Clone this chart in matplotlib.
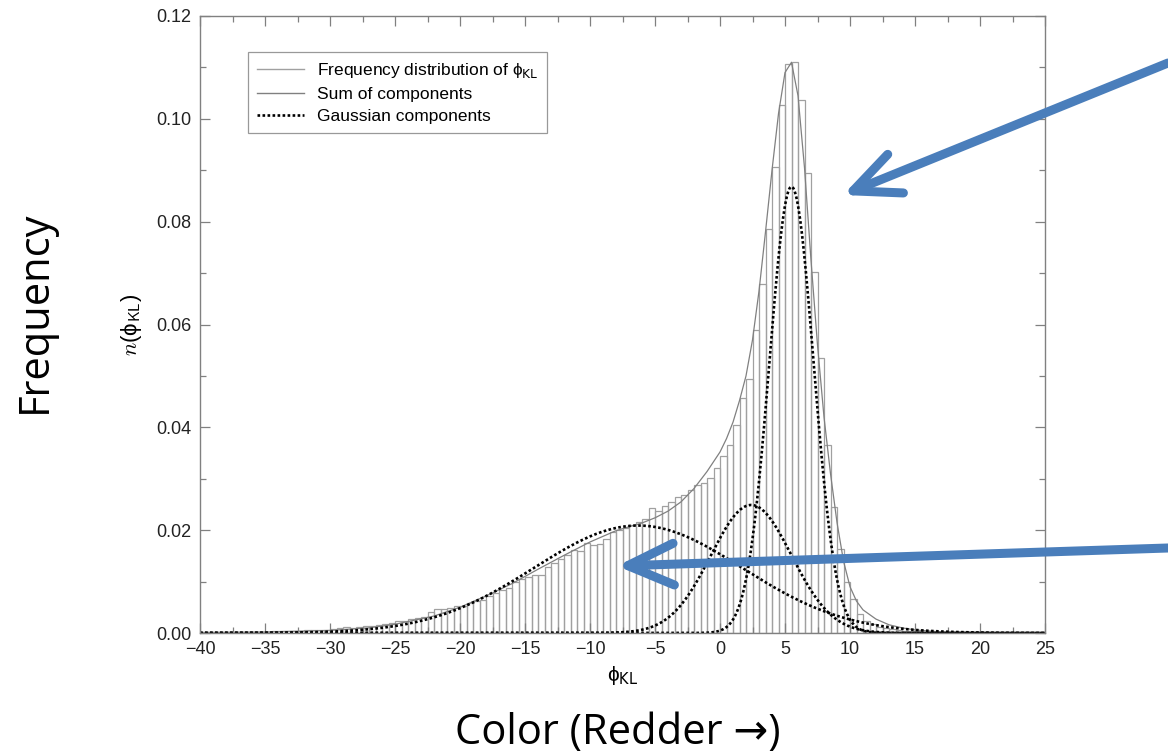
import numpy as np
import matplotlib.pyplot as plt
from matplotlib.lines import Line2D
from matplotlib.patches import FancyArrowPatch
from matplotlib.ticker import MultipleLocator

plt.rcParams['font.family'] = ['Liberation Sans', 'DejaVu Sans']

# histogram of phi_KL, bins of 0.5 starting at -40
bin_start = -40.0
bin_width = 0.5
freq = [
    0.0001, 0.0001, 0.0002, 0.0002, 0.0002, 0.0002, 0.0002, 0.0002, 0.0001, 0.0002,  # -40..-35
    0.0002, 0.0003, 0.0003, 0.0003, 0.0004, 0.0004, 0.0005, 0.0005, 0.0006, 0.0006,  # -35..-30
    0.0008, 0.0009, 0.0011, 0.0010, 0.0011, 0.0013, 0.0014, 0.0016, 0.0018, 0.0019,  # -30..-25
    0.0023, 0.0023, 0.0027, 0.0030, 0.0032, 0.0041, 0.0046, 0.0047, 0.0049, 0.0052,  # -25..-20
    0.0053, 0.0058, 0.0063, 0.0064, 0.0072, 0.0077, 0.0084, 0.0087, 0.0100, 0.0105,  # -20..-15
    0.0108, 0.0112, 0.0112, 0.0128, 0.0136, 0.0144, 0.0152, 0.0161, 0.0160, 0.0176,  # -15..-10
    0.0171, 0.0174, 0.0182, 0.0197, 0.0200, 0.0205, 0.0210, 0.0215, 0.0221, 0.0243,  # -10..-5
    0.0238, 0.0247, 0.0254, 0.0265, 0.0268, 0.0278, 0.0288, 0.0291, 0.0302, 0.0320,  # -5..0
    0.0344, 0.0366, 0.0405, 0.0457, 0.0494, 0.0589, 0.0678, 0.0786, 0.0906, 0.1026,  # 0..5
    0.1107, 0.1111, 0.1036, 0.0894, 0.0702, 0.0535, 0.0366, 0.0245, 0.0163, 0.0099,  # 5..10
    0.0066, 0.0037, 0.0023, 0.0017, 0.0012, 0.0009, 0.0007, 0.0005, 0.0004, 0.0003,  # 10..15
    0.0003, 0.0002, 0.0002, 0.0001, 0.0001, 0.0001, 0.0001, 0.0, 0.0, 0.0,           # 15..20
    0.0, 0.0, 0.0, 0.0, 0.0, 0.0, 0.0, 0.0, 0.0, 0.0,                                # 20..25
]

# sum of components
sum_x = [-40, -35, -30, -27, -25, -22, -20, -18, -16, -14, -12, -10, -8, -6, -5, -4, -3, -2, -1,
         0, 0.5, 1, 1.5, 2, 2.5, 3, 3.5, 4, 4.5, 5, 5.5, 6, 6.5, 7, 7.5, 8, 8.5, 9, 9.5,
         10, 10.5, 11, 12, 13, 14, 15, 17, 20, 25]
sum_y = [0.0001, 0.0002, 0.0005, 0.0010, 0.0017, 0.0033, 0.0050, 0.0072, 0.0096, 0.0124, 0.0151,
         0.0177, 0.0199, 0.0214, 0.0224, 0.0237, 0.0255, 0.0281, 0.0314,
         0.0352, 0.0378, 0.0410, 0.0452, 0.0500, 0.0570, 0.0665, 0.0780, 0.0900, 0.1010, 0.1090,
         0.1110, 0.1045, 0.0905, 0.0725, 0.0560, 0.0420, 0.0310, 0.0215, 0.0140,
         0.0090, 0.0062, 0.0045, 0.0027, 0.0016, 0.0010, 0.0006, 0.0002, 0.0001, 0.0]

# gaussian components: centre, sigma, peak height
comp_mu = [-6.3, 2.4, 5.5]
comp_sigma = [8.0, 3.1, 1.7]
comp_peak = [0.0209, 0.0249, 0.0868]

fig = plt.figure(figsize=(11.68, 7.55), dpi=100)
ax = fig.add_axes([200 / 1168, 122 / 755, 845 / 1168, 617 / 755])

edges = bin_start + bin_width * np.arange(len(freq))
ax.bar(edges, freq, width=bin_width, align='edge', fill=False,
       edgecolor='#a0a0a0', linewidth=0.9)
ax.plot(sum_x, sum_y, color='#808080', lw=0.9)

dots = (0, (1, 0.9))
xx = np.linspace(-40, 25, 1500)
for mu, sig, amp in zip(comp_mu, comp_sigma, comp_peak):
    ax.plot(xx, amp * np.exp(-0.5 * ((xx - mu) / sig) ** 2), color='black', ls=dots, lw=1.9)

ax.set_xlim(-40, 25)
ax.set_ylim(0, 0.12)
ax.xaxis.set_major_locator(MultipleLocator(5))
ax.xaxis.set_minor_locator(MultipleLocator(2.5))
ax.yaxis.set_major_locator(MultipleLocator(0.02))
ax.yaxis.set_minor_locator(MultipleLocator(0.01))
ax.yaxis.set_major_formatter(plt.FuncFormatter(lambda v, p: f"{v:.2f}"))
ax.tick_params(which='both', direction='in', top=True, right=True, color='#808080',
               labelsize=13, labelcolor='#222222')
ax.tick_params(which='major', length=7, width=0.9, pad=6)
ax.tick_params(which='minor', length=4, width=0.9)
for sp in ax.spines.values():
    sp.set_color('#808080')
    sp.set_linewidth(1.0)

ax.set_xlabel('\u03d5$_{\\mathsf{KL}}$', fontsize=15, labelpad=4)
ax.set_ylabel('$n$(\u03d5$_{\\mathsf{KL}}$)', fontsize=16, math_fontfamily='cm', labelpad=9)

handles = [Line2D([], [], color='#a0a0a0', lw=1),
           Line2D([], [], color='#808080', lw=1),
           Line2D([], [], color='black', ls=dots, lw=1.9)]
labels = ['Frequency distribution of \u03d5$_{\\mathsf{KL}}$', 'Sum of components', 'Gaussian components']
leg = ax.legend(handles, labels, loc='upper left', bbox_to_anchor=(48 / 845, 581 / 617),
                borderaxespad=0, fontsize=12.5, frameon=True, fancybox=False,
                handlelength=2.7, handletextpad=0.75, labelspacing=0.4, borderpad=0.5)
leg.get_frame().set_edgecolor('#808080')
leg.get_frame().set_linewidth(0.9)

# slide annotations
fig.text(35 / 1168, 1 - 312 / 755, 'Frequency', rotation=90, ha='center', va='center',
         fontsize=30, family=['Open Sans', 'DejaVu Sans'])
fig.text(618 / 1168, 1 - 733 / 755, 'Color (Redder \u2192)', ha='center', va='center',
         fontsize=30, family=['Open Sans', 'DejaVu Sans'])

blue = '#4a7ebb'
arrows = [((1168, 755 - 63), (843, 755 - 195)),
          ((1168, 755 - 548), (617, 755 - 566))]
for tail, tip in arrows:
    fig.add_artist(FancyArrowPatch(
        tail, tip, transform=None, arrowstyle='->,head_length=3.3,head_width=1.5',
        mutation_scale=10, lw=6.5, color=blue, shrinkA=0, shrinkB=0,
        capstyle='round', joinstyle='round'))

fig.savefig('out.png', dpi=100)
